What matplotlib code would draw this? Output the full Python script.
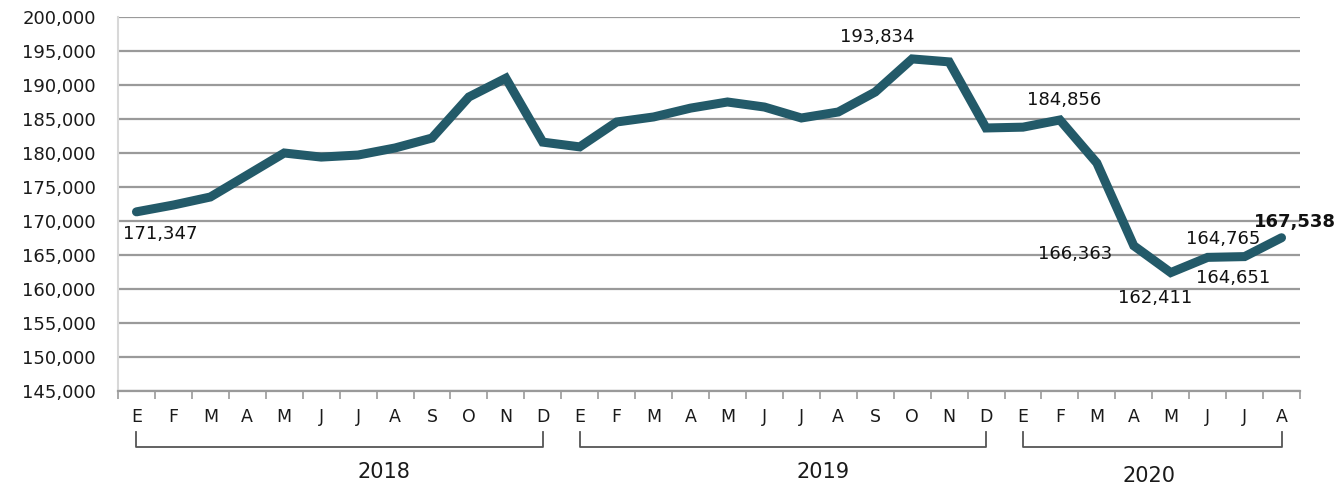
import matplotlib
matplotlib.use("Agg")
import matplotlib.pyplot as plt
import matplotlib.transforms as mtransforms
import numpy as np

months = ["E","F","M","A","M","J","J","A","S","O","N","D",
          "E","F","M","A","M","J","J","A","S","O","N","D",
          "E","F","M","A","M","J","J","A"]
values = [171347, 172350, 173530, 176760, 180000, 179400, 179700, 180740,
          182200, 188240, 191000, 181600,
          180900, 184560, 185300, 186600, 187500, 186760, 185150, 186030,
          188970, 193834, 193400, 183680,
          183800, 184856, 178530, 166363, 162411, 164651, 164765, 167538]
years = ["2018", "2019", "2020"]
year_spans = [(0, 11), (12, 23), (24, 31)]
yticks = list(range(145000, 200001, 5000))

# labeled points: index -> (dx px, dy px, ha, bold)
labels = {0: (-13, -22, "left", False),
          21: (-35, 22, "center", False),
          25: (4, 20, "center", False),
          27: (-59, -8, "center", False),
          28: (-16, -25, "center", False),
          29: (25, -21, "center", False),
          30: (-21, 18, "center", False),
          31: (13, 16, "center", True)}
# year label layout: (x shift in px from bracket centre, y pixel)
year_label_layout = [(44, 472), (40, 472), (-3, 476)]

plt.rcParams['font.family'] = ['DejaVu Sans']
color = "#235a69"
tcol = "#1a1a1a"

fig = plt.figure(figsize=(13.38, 4.90), dpi=100)
ax = fig.add_axes([118/1338, 1-391/490, (1300-118)/1338, (391-17)/490])
x = np.arange(len(values))
ax.plot(x, values, color=color, lw=6.5, solid_joinstyle="miter", solid_capstyle="round", zorder=3)

ax.set_xlim(-0.5, len(values)-0.5)
ax.set_ylim(145000, 200000)
ax.set_yticks(yticks)
ax.set_yticklabels([f"{v:,}" for v in yticks], fontsize=13, color=tcol)
ax.yaxis.grid(True, color="#9a9a9a", lw=1.6)
ax.set_axisbelow(True)
ax.tick_params(axis="y", length=0, pad=16)

ax.set_xticks(np.arange(-0.5, len(values), 1.0))
ax.set_xticklabels([])
ax.set_xticks(x, minor=True)
ax.set_xticklabels(months, minor=True, fontsize=12.5, color=tcol)
ax.tick_params(axis="x", which="major", length=6, color="#9a9a9a", width=1.2, direction="out")
ax.tick_params(axis="x", which="minor", length=0, pad=12)

for s in ["top", "right"]:
    ax.spines[s].set_visible(False)
ax.spines["left"].set_color("#d8d8d8")
ax.spines["left"].set_linewidth(1.5)
ax.spines["bottom"].set_color("#9a9a9a")
ax.spines["bottom"].set_linewidth(1.6)

for i, (dx, dy, ha, bold) in labels.items():
    ax.annotate(f"{values[i]:,}", (x[i], values[i]), xytext=(dx, dy),
                textcoords="offset pixels", ha=ha, va="center", fontsize=13,
                fontweight="bold" if bold else "normal", color="#111111", zorder=4)

trans = mtransforms.blended_transform_factory(ax.transData, ax.transAxes)
y_line = (391-447)/374
y_top = (391-432)/374
for (a, b), yr, (xs, ypix) in zip(year_spans, years, year_label_layout):
    ax.plot([a, a, b, b], [y_top, y_line, y_line, y_top], transform=trans,
            color="#555555", lw=1.3, clip_on=False)
    ax.annotate(yr, ((a+b)/2, (391-ypix)/374), xycoords=trans,
                xytext=(xs, 0), textcoords="offset pixels", ha="center",
                va="center", fontsize=15, color=tcol, annotation_clip=False)

fig.savefig("out.png", dpi=100)
